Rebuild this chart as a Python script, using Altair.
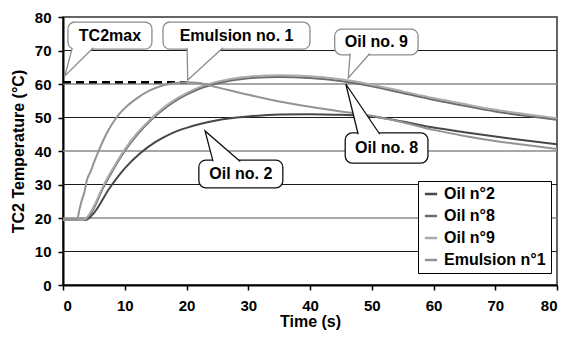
import altair as alt
import pandas as pd

FONT = "Liberation Sans"

# ---------------- data ----------------
series_names = ["Oil n°2", "Oil n°8", "Oil n°9", "Emulsion n°1"]
series_colors = ["#474747", "#6b6b6b", "#ababab", "#939393"]

oil2_t = [0, 3.8, 5, 7.5, 10, 12.5, 15, 17.5, 20, 22.5, 25, 30, 35, 40, 45, 50, 55, 60, 65, 70, 75, 80]
oil2_v = [19.5, 19.5, 21.5, 28.8, 34.8, 39.3, 42.7, 45.2, 46.9, 48.2, 49.2, 50.3, 50.9, 51.0, 50.8, 50.3, 48.8, 47.0, 45.6, 44.3, 43.1, 42.0]

oil8_t = [0, 3.5, 4, 5, 6.5, 8, 10, 12, 14, 16, 18, 20, 22, 25, 30, 35, 40, 45, 50, 55, 60, 65, 70, 75, 80]
oil8_v = [19.5, 19.5, 20.0, 23.0, 29.0, 34.0, 40.0, 44.8, 48.8, 52.0, 54.7, 56.8, 58.5, 60.2, 61.7, 62.1, 61.8, 60.9, 59.3, 57.3, 55.3, 53.5, 51.8, 50.5, 49.3]

oil9_t = [0, 3.3, 4, 5, 6.5, 8, 10, 12, 14, 16, 18, 20, 22, 25, 30, 35, 40, 45, 50, 55, 60, 65, 70, 75, 80]
oil9_v = [19.5, 19.5, 20.5, 23.5, 29.5, 34.5, 40.5, 45.3, 49.2, 52.5, 55.2, 57.3, 59.0, 60.7, 62.2, 62.6, 62.3, 61.4, 59.8, 57.8, 55.8, 54.0, 52.3, 51.0, 49.8]

emul_t = [0, 2.3, 2.6, 3.0, 3.5, 3.9, 4.5, 5, 6, 7, 8, 9, 10, 12, 14, 16, 18, 20, 22, 25, 30, 35, 40, 45, 50, 55, 60, 65, 70, 75, 80]
emul_v = [19.5, 19.5, 22.0, 25.0, 28.0, 31.5, 34.0, 36.5, 41.0, 45.0, 48.2, 50.8, 52.8, 55.8, 58.0, 59.5, 60.2, 60.5, 60.3, 59.0, 56.8, 54.8, 53.2, 51.8, 50.5, 48.6, 46.3, 44.5, 43.0, 41.8, 40.6]

tc2max_t = [0, 20]
tc2max_v = [60.5, 60.5]

x_ticks = [0, 10, 20, 30, 40, 50, 60, 70, 80]
y_ticks = [0, 10, 20, 30, 40, 50, 60, 70, 80]
grid_dark = [10, 30, 50, 70]
grid_light = [20, 40, 60]

# callouts (data units): label, box t0,t1,v0,v1, pointer base ta,tb at vb, tip tt,vt, edge colour
callout_label = ["TC2max", "Emulsion no. 1", "Oil no. 9", "Oil no. 8", "Oil no. 2"]
callout_t0 = [0.8, 16.2, 44.0, 45.7, 22.0]
callout_t1 = [14.4, 40.0, 57.5, 59.1, 35.6]
callout_v0 = [70.4, 70.4, 68.7, 36.4, 29.0]
callout_v1 = [78.5, 78.5, 76.4, 45.4, 37.3]
ptr_ta = [1.5, 20.1, 46.5, 47.8, 24.3]
ptr_tb = [4.9, 25.9, 49.7, 51.3, 28.7]
ptr_vb = [70.8, 70.8, 69.1, 45.0, 36.9]
ptr_tt = [0.3, 20.2, 46.2, 45.8, 23.0]
ptr_vt = [62.4, 61.2, 61.8, 60.0, 46.0]
callout_edge = ["#8c8c8c", "#8c8c8c", "#8c8c8c", "#111111", "#111111"]

# ---------------- tables ----------------
rows = []
for name, ts, vs in zip(series_names, [oil2_t, oil8_t, oil9_t, emul_t], [oil2_v, oil8_v, oil9_v, emul_v]):
    for t, v in zip(ts, vs):
        rows.append({"series": name, "t": t, "v": v})
curves = pd.DataFrame(rows)

dash_df = pd.DataFrame({"t": tc2max_t, "v": tc2max_v})

boxes = pd.DataFrame({
    "label": callout_label, "t0": callout_t0, "t1": callout_t1,
    "v0": callout_v0, "v1": callout_v1, "edge": callout_edge,
    "tc": [(a + b) / 2 for a, b in zip(callout_t0, callout_t1)],
    "vc": [(a + b) / 2 for a, b in zip(callout_v0, callout_v1)],
})

prow = []
for i, lab in enumerate(callout_label):
    prow.append({"label": lab, "o": 0, "t": ptr_ta[i], "v": ptr_vb[i], "edge": callout_edge[i]})
    prow.append({"label": lab, "o": 1, "t": ptr_tt[i], "v": ptr_vt[i], "edge": callout_edge[i]})
    prow.append({"label": lab, "o": 2, "t": ptr_tb[i], "v": ptr_vb[i], "edge": callout_edge[i]})
pointers = pd.DataFrame(prow)

xs = alt.Scale(domain=[0, 80], nice=False)
ys = alt.Scale(domain=[0, 80], nice=False)

x_axis = alt.Axis(values=x_ticks, title="Time (s)", grid=False, labelOverlap=False)
y_axis = alt.Axis(values=y_ticks, title="TC2 Temperature (°C)", grid=False, labelOverlap=False)


def X(field):
    return alt.X(field, scale=xs, axis=x_axis)


def Y(field):
    return alt.Y(field, scale=ys, axis=y_axis)


grid1 = alt.Chart(pd.DataFrame({"g": grid_dark})).mark_rule(color="#1a1a1a", strokeWidth=1.2).encode(
    y=Y("g:Q"))
grid2 = alt.Chart(pd.DataFrame({"g": grid_light})).mark_rule(color="#8a8a8a", strokeWidth=1.4).encode(
    y=Y("g:Q"))

dash = alt.Chart(dash_df).mark_line(color="black", strokeWidth=2.5, strokeDash=[8, 5]).encode(
    x=X("t:Q"), y=Y("v:Q"))

lines = alt.Chart(curves).mark_line(strokeWidth=2, interpolate="monotone").encode(
    x=X("t:Q"),
    y=Y("v:Q"),
    color=alt.Color("series:N", sort=series_names,
                    scale=alt.Scale(domain=series_names, range=series_colors),
                    legend=alt.Legend(title=None, orient="none", legendX=355, legendY=164,
                                      fillColor="white", strokeColor="black", padding=5,
                                      symbolType="stroke", symbolSize=150, symbolStrokeWidth=2.5,
                                      labelFont=FONT, labelFontSize=16, labelFontWeight="bold",
                                      labelColor="black", rowPadding=6, labelOffset=5)),
    detail="series:N",
)

rects = alt.Chart(boxes).mark_rect(fill="white", cornerRadius=7, strokeWidth=1.3).encode(
    x=X("t0:Q"), x2="t1:Q", y=Y("v0:Q"), y2="v1:Q",
    stroke=alt.Stroke("edge:N", scale=None))

ptrs = alt.Chart(pointers).mark_line(fill="white", strokeWidth=1.3).encode(
    x=X("t:Q"), y=Y("v:Q"),
    order="o:Q", detail="label:N",
    stroke=alt.Stroke("edge:N", scale=None))

texts = alt.Chart(boxes).mark_text(font=FONT, fontSize=16, fontWeight="bold", color="black").encode(
    x=X("tc:Q"), y=Y("vc:Q"), text="label:N")

chart = alt.layer(grid1, grid2, dash, lines, rects, ptrs, texts).properties(
    width=494, height=268,
    autosize=alt.AutoSizeParams(type="none"),
    padding={"left": 55, "top": 9, "right": 3, "bottom": 45},
).configure_view(stroke="#333333", strokeWidth=1.5).configure_axis(
    labelFont=FONT, labelFontSize=15, labelFontWeight="bold", labelColor="black",
    titleFont=FONT, titleFontSize=16, titleFontWeight="bold", titleColor="black",
    domainColor="black", domainWidth=2, tickColor="black", tickWidth=1.5, tickSize=5,
).configure_axisX(labelPadding=8, titlePadding=0).configure_axisY(labelPadding=7, titlePadding=8)

chart.save("out.html", embed_options={"renderer": "svg", "actions": False})
